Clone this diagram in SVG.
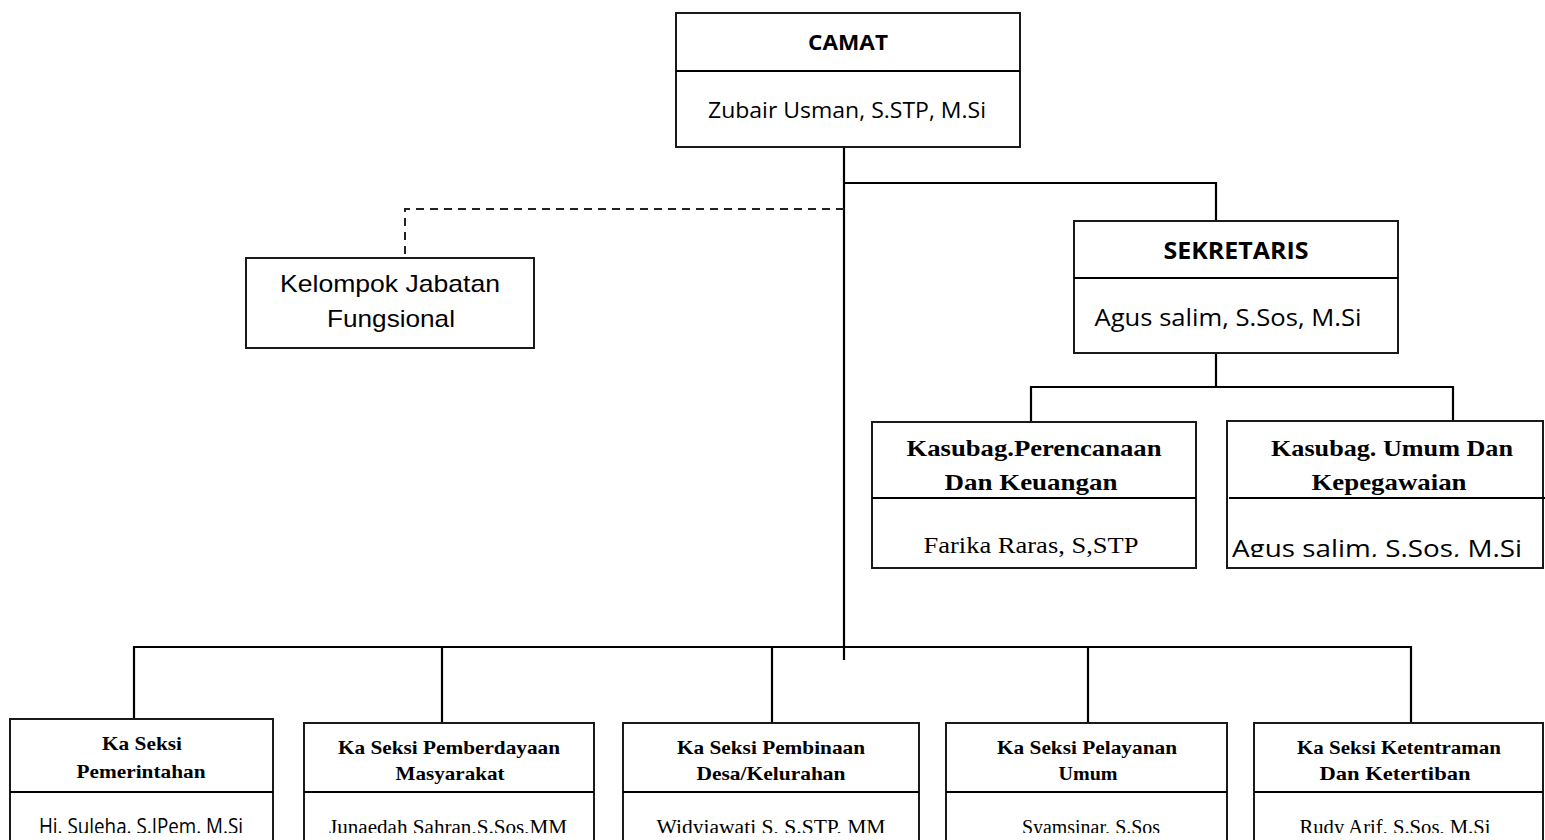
<svg xmlns="http://www.w3.org/2000/svg" width="1545" height="840" viewBox="0 0 1545 840">
<defs>
<style>
.box{fill:#fff;stroke:#1a1a1a;stroke-width:2}
.dv{stroke:#000;stroke-width:2.2;fill:none}
.conn{fill:none;stroke:#000;stroke-width:2.2}
.dash{fill:none;stroke:#222;stroke-width:2;stroke-dasharray:8 6}
.cal{font-family:"Open Sans","Liberation Sans",sans-serif;fill:#000;text-anchor:middle}
.tnr{font-family:"Liberation Serif","Times New Roman",serif;fill:#000;text-anchor:middle}
.ari{font-family:"Liberation Sans",Arial,sans-serif;fill:#000;text-anchor:middle;font-size:24px}
.b{font-weight:bold}
</style>
<clipPath id="clipBottom"><rect x="0" y="0" width="1545" height="833"/></clipPath>
<clipPath id="clipUmum"><rect x="1227" y="500" width="318" height="57"/></clipPath>
</defs>
<rect width="1545" height="840" fill="#fff"/>

<g id="connectors">
<path class="conn" d="M844 147 V660"/>
<path class="conn" d="M844 183 H1216 V221"/>
<path class="dash" d="M844 209 H405 V258"/>
<path class="conn" d="M1216 353 V387"/>
<path class="conn" d="M1031 422 V387 H1453 V421"/>
<path class="conn" d="M134 719 V647 H1411 V723"/>
<path class="conn" d="M442 647 V723"/>
<path class="conn" d="M772 647 V723"/>
<path class="conn" d="M1088 647 V723"/>
</g>

<g id="camat">
<rect class="box" x="676" y="13" width="344" height="134"/>
<line class="dv" x1="676" y1="71" x2="1020" y2="71"/>
<text class="cal b" x="848" y="50" font-size="21" textLength="80" lengthAdjust="spacingAndGlyphs">CAMAT</text>
<text class="cal" x="847" y="118" font-size="21" textLength="278" lengthAdjust="spacingAndGlyphs">Zubair Usman, S.STP, M.Si</text>
</g>

<g id="kelompok">
<rect class="box" x="246" y="258" width="288" height="90"/>
<text class="ari" x="390" y="292" textLength="220" lengthAdjust="spacingAndGlyphs">Kelompok Jabatan</text>
<text class="ari" x="391" y="327" textLength="128" lengthAdjust="spacingAndGlyphs">Fungsional</text>
</g>

<g id="sekretaris">
<rect class="box" x="1074" y="221" width="324" height="132"/>
<line class="dv" x1="1074" y1="278" x2="1398" y2="278"/>
<text class="cal b" x="1236" y="259" font-size="23" textLength="145" lengthAdjust="spacingAndGlyphs">SEKRETARIS</text>
<text class="cal" x="1228" y="326" font-size="23" textLength="267" lengthAdjust="spacingAndGlyphs">Agus salim, S.Sos, M.Si</text>
</g>

<g id="kasubag-perencanaan">
<rect class="box" x="872" y="422" width="324" height="146"/>
<line class="dv" x1="872" y1="498" x2="1196" y2="498"/>
<text class="tnr b" x="1034" y="456" font-size="23" textLength="255" lengthAdjust="spacingAndGlyphs">Kasubag.Perencanaan</text>
<text class="tnr b" x="1031" y="490" font-size="23" textLength="173" lengthAdjust="spacingAndGlyphs">Dan Keuangan</text>
<text class="tnr" x="1031" y="553" font-size="23" textLength="215" lengthAdjust="spacingAndGlyphs">Farika Raras, S,STP</text>
</g>

<g id="kasubag-umum">
<rect class="box" x="1227" y="421" width="316" height="147"/>
<line class="dv" x1="1229" y1="498" x2="1545" y2="498"/>
<text class="tnr b" x="1392" y="456" font-size="23" textLength="242" lengthAdjust="spacingAndGlyphs">Kasubag. Umum Dan</text>
<text class="tnr b" x="1389" y="490" font-size="23" textLength="155" lengthAdjust="spacingAndGlyphs">Kepegawaian</text>
<text class="cal" x="1377" y="557" font-size="24" textLength="290" lengthAdjust="spacingAndGlyphs" clip-path="url(#clipUmum)">Agus salim, S.Sos, M.Si</text>
</g>

<g id="seksi-pemerintahan">
<rect class="box" x="10" y="719" width="263" height="131"/>
<line class="dv" x1="10" y1="792" x2="273" y2="792"/>
<text class="tnr b" x="142" y="750" font-size="19" textLength="80" lengthAdjust="spacingAndGlyphs">Ka Seksi</text>
<text class="tnr b" x="141" y="778" font-size="19" textLength="129" lengthAdjust="spacingAndGlyphs">Pemerintahan</text>
<text class="cal" x="141" y="834" font-size="21" textLength="204" lengthAdjust="spacingAndGlyphs" clip-path="url(#clipBottom)">Hi. Suleha. S.IPem. M.Si</text>
</g>

<g id="seksi-pemberdayaan">
<rect class="box" x="304" y="723" width="290" height="127"/>
<line class="dv" x1="304" y1="792" x2="594" y2="792"/>
<text class="tnr b" x="449" y="754" font-size="19" textLength="222" lengthAdjust="spacingAndGlyphs">Ka Seksi Pemberdayaan</text>
<text class="tnr b" x="450" y="780" font-size="19" textLength="109" lengthAdjust="spacingAndGlyphs">Masyarakat</text>
<text class="tnr" x="448" y="834" font-size="20" textLength="238" lengthAdjust="spacingAndGlyphs" clip-path="url(#clipBottom)">Junaedah Sahran,S.Sos,MM</text>
</g>

<g id="seksi-pembinaan">
<rect class="box" x="623" y="723" width="296" height="127"/>
<line class="dv" x1="623" y1="792" x2="919" y2="792"/>
<text class="tnr b" x="771" y="754" font-size="19" textLength="188" lengthAdjust="spacingAndGlyphs">Ka Seksi Pembinaan</text>
<text class="tnr b" x="771" y="780" font-size="19" textLength="149" lengthAdjust="spacingAndGlyphs">Desa/Kelurahan</text>
<text class="tnr" x="771" y="834" font-size="20" textLength="229" lengthAdjust="spacingAndGlyphs" clip-path="url(#clipBottom)">Widyiawati S, S.STP, MM</text>
</g>

<g id="seksi-pelayanan">
<rect class="box" x="946" y="723" width="281" height="127"/>
<line class="dv" x1="946" y1="792" x2="1227" y2="792"/>
<text class="tnr b" x="1087" y="754" font-size="19" textLength="180" lengthAdjust="spacingAndGlyphs">Ka Seksi Pelayanan</text>
<text class="tnr b" x="1088" y="780" font-size="19" textLength="59" lengthAdjust="spacingAndGlyphs">Umum</text>
<text class="tnr" x="1091" y="834" font-size="20" textLength="138" lengthAdjust="spacingAndGlyphs" clip-path="url(#clipBottom)">Syamsinar, S.Sos</text>
</g>

<g id="seksi-ketentraman">
<rect class="box" x="1254" y="723" width="289" height="127"/>
<line class="dv" x1="1254" y1="792" x2="1543" y2="792"/>
<text class="tnr b" x="1399" y="754" font-size="19" textLength="204" lengthAdjust="spacingAndGlyphs">Ka Seksi Ketentraman</text>
<text class="tnr b" x="1395" y="780" font-size="19" textLength="151" lengthAdjust="spacingAndGlyphs">Dan Ketertiban</text>
<text class="tnr" x="1395" y="834" font-size="20" textLength="191" lengthAdjust="spacingAndGlyphs" clip-path="url(#clipBottom)">Rudy Arif, S.Sos, M.Si</text>
</g>
</svg>
